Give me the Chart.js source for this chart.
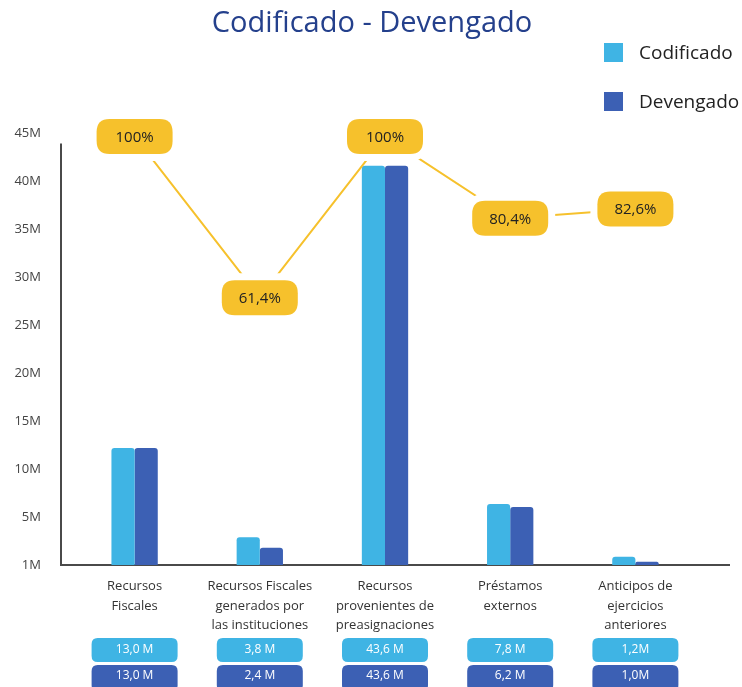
<!DOCTYPE html>
<html lang="es">
<head>
<meta charset="utf-8">
<title>Codificado - Devengado</title>
<script src="https://cdn.jsdelivr.net/npm/chart.js@4.4.1/dist/chart.umd.min.js"></script>
<style>
    html, body { margin: 0; padding: 0; background: #ffffff; }
    #wrap { width: 742px; height: 687px; position: relative; }
</style>
</head>
<body>
<div id="wrap"><canvas id="budgetChart"></canvas></div>
<script>
// data (millions)
const categories = [
    ['Recursos', 'Fiscales'],
    ['Recursos Fiscales', 'generados por', 'las instituciones'],
    ['Recursos', 'provenientes de', 'preasignaciones'],
    ['Préstamos', 'externos'],
    ['Anticipos de', 'ejercicios', 'anteriores']
];
const codificado = [12.2, 2.9, 41.6, 6.35, 0.85];
const devengado = [12.2, 1.8, 41.6, 6.05, 0.35];
const ejecucion = [100, 61.4, 100, 80.4, 82.6];
const ejecucionLabels = ['100%', '61,4%', '100%', '80,4%', '82,6%'];
const codificadoLabels = ['13,0 M', '3,8 M', '43,6 M', '7,8 M', '1,2M'];
const devengadoLabels = ['13,0 M', '2,4 M', '43,6 M', '6,2 M', '1,0M'];
const yTicks = [0, 5, 10, 15, 20, 25, 30, 35, 40, 45];

const lightBlue = '#3fb4e4';
const darkBlue = '#3c60b4';
const yellow = '#f6c12c';
const fontFamily = '"Open Sans", "DejaVu Sans", sans-serif';

function roundRect(ctx, x, y, w, h, r) {
    ctx.beginPath();
    ctx.moveTo(x + r, y);
    ctx.lineTo(x + w - r, y);
    ctx.quadraticCurveTo(x + w, y, x + w, y + r);
    ctx.lineTo(x + w, y + h - r);
    ctx.quadraticCurveTo(x + w, y + h, x + w - r, y + h);
    ctx.lineTo(x + r, y + h);
    ctx.quadraticCurveTo(x, y + h, x, y + h - r);
    ctx.lineTo(x, y + r);
    ctx.quadraticCurveTo(x, y, x + r, y);
    ctx.closePath();
}

// axis lines, drawn a bit wider than the plot area like the original
const axisLines = {
    id: 'axisLines',
    beforeDatasetsDraw(chart) {
        const { ctx, chartArea } = chart;
        const y = chart.scales.y;
        ctx.save();
        ctx.strokeStyle = '#4a4a4a';
        ctx.lineWidth = 2;
        ctx.beginPath();
        ctx.moveTo(chartArea.left - 11, y.getPixelForValue(43.9));
        ctx.lineTo(chartArea.left - 11, chartArea.bottom);
        ctx.lineTo(chartArea.right + 32, chartArea.bottom);
        ctx.stroke();
        ctx.restore();
    }
};

// yellow percentage badges on the line points
const percentBadges = {
    id: 'percentBadges',
    afterDatasetsDraw(chart) {
        const { ctx } = chart;
        const meta = chart.getDatasetMeta(2);
        ctx.save();
        ctx.font = '15px ' + fontFamily;
        ctx.textAlign = 'center';
        ctx.textBaseline = 'middle';
        meta.data.forEach((pt, i) => {
            const w = 76, h = 35;
            roundRect(ctx, pt.x - w / 2, pt.y - h / 2, w, h, 13);
            ctx.strokeStyle = '#ffffff';
            ctx.lineWidth = 14;
            ctx.stroke();
            ctx.fillStyle = yellow;
            ctx.fill();
            ctx.fillStyle = '#222222';
            ctx.fillText(ejecucionLabels[i], pt.x, pt.y + 1);
        });
        ctx.restore();
    }
};

// title, legend and value boxes under the categories
const decorations = {
    id: 'decorations',
    afterDraw(chart) {
        const { ctx } = chart;
        const x = chart.scales.x;
        ctx.save();

        ctx.fillStyle = '#24408c';
        ctx.font = '29px ' + fontFamily;
        ctx.textAlign = 'center';
        ctx.textBaseline = 'alphabetic';
        ctx.fillText('Codificado - Devengado', 372, 32);

        const legendItems = [[chart.data.datasets[0], 43], [chart.data.datasets[1], 92]];
        ctx.font = '19px ' + fontFamily;
        ctx.textAlign = 'left';
        legendItems.forEach(([ds, top]) => {
            ctx.fillStyle = ds.backgroundColor;
            ctx.fillRect(604, top, 19, 19);
            ctx.fillStyle = '#222222';
            ctx.fillText(ds.label, 639, top + 16);
        });

        ctx.font = '12px ' + fontFamily;
        ctx.textAlign = 'center';
        ctx.textBaseline = 'middle';
        categories.forEach((c, i) => {
            const cx = x.getPixelForValue(i);
            roundRect(ctx, cx - 43, 638, 86, 24, 6);
            ctx.fillStyle = lightBlue;
            ctx.fill();
            ctx.fillStyle = '#ffffff';
            ctx.fillText(codificadoLabels[i], cx, 650);

            roundRect(ctx, cx - 43, 665, 86, 26, 6);
            ctx.fillStyle = darkBlue;
            ctx.fill();
            ctx.fillStyle = '#ffffff';
            ctx.fillText(devengadoLabels[i], cx, 676);
        });
        ctx.restore();
    }
};

const chart = new Chart(document.getElementById('budgetChart'), {
    data: {
        labels: categories,
        datasets: [
            {
                type: 'bar',
                label: 'Codificado',
                data: codificado,
                backgroundColor: lightBlue,
                borderRadius: { topLeft: 3, topRight: 3 },
                borderSkipped: 'start',
                categoryPercentage: 0.37,
                barPercentage: 1.0,
                order: 2
            },
            {
                type: 'bar',
                label: 'Devengado',
                data: devengado,
                backgroundColor: darkBlue,
                borderRadius: { topLeft: 3, topRight: 3 },
                borderSkipped: 'start',
                categoryPercentage: 0.37,
                barPercentage: 1.0,
                order: 2
            },
            {
                type: 'line',
                label: 'Ejecución',
                data: ejecucion,
                yAxisID: 'y2',
                borderColor: yellow,
                borderWidth: 2,
                pointRadius: 0,
                tension: 0,
                clip: false,
                order: 1
            }
        ]
    },
    options: {
        responsive: true,
        maintainAspectRatio: false,
        animation: false,
        layout: {
            padding: { top: 133, right: 44, bottom: 0, left: 0 }
        },
        plugins: {
            legend: { display: false },
            title: { display: false },
            tooltip: { enabled: false }
        },
        scales: {
            x: {
                grid: { display: false, drawTicks: false },
                border: { display: false },
                ticks: {
                    color: '#333333',
                    font: { family: fontFamily, size: 13, lineHeight: 1.5 },
                    padding: 12,
                    maxRotation: 0,
                    autoSkip: false
                },
                afterFit(scale) { scale.height = 122; }
            },
            y: {
                min: 0,
                max: 45,
                grid: { display: false, drawTicks: false },
                border: { display: false },
                afterBuildTicks(scale) { scale.ticks = yTicks.map(v => ({ value: v })); },
                ticks: {
                    color: '#444444',
                    font: { family: fontFamily, size: 13 },
                    padding: 31,
                    callback: (v) => (v === 0 ? '1M' : v + 'M')
                },
                afterFit(scale) { scale.width = 72; }
            },
            y2: {
                display: false,
                min: -2.57,
                max: 100.81
            }
        }
    },
    plugins: [axisLines, percentBadges, decorations]
});
</script>
</body>
</html>
